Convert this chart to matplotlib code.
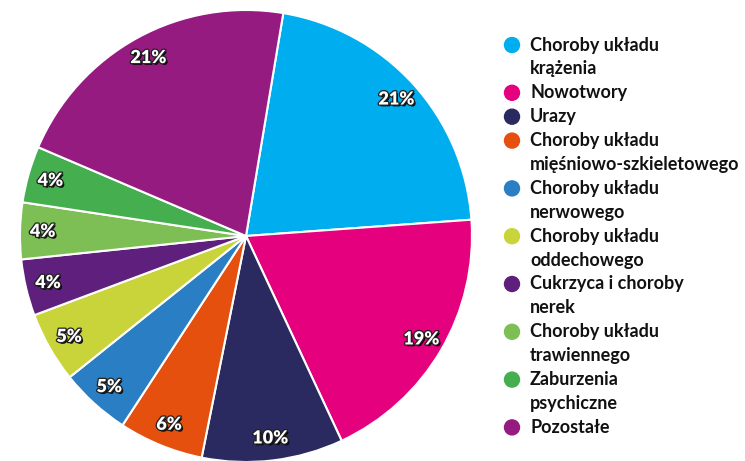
import matplotlib
matplotlib.use("Agg")
import matplotlib.pyplot as plt
import matplotlib.patheffects as pe
from matplotlib.patches import Ellipse

# dane
categories = [
    "Choroby układu\nkrążenia",
    "Nowotwory",
    "Urazy",
    "Choroby układu\nmięśniowo-szkieletowego",
    "Choroby układu\nnerwowego",
    "Choroby układu\noddechowego",
    "Cukrzyca i choroby\nnerek",
    "Choroby układu\ntrawiennego",
    "Zaburzenia\npsychiczne",
    "Pozostałe",
]
shares = [21, 19, 10, 6, 5, 5, 4, 4, 4, 21]
colors = ["#00AEEF", "#E5007D", "#2A2A60", "#E5500F", "#2A7EC3",
          "#C8D43A", "#5F1F7C", "#7DBE55", "#45AE4E", "#951B80"]

plt.rcParams['font.family'] = ['Lato', 'DejaVu Sans']

W, H = 745, 461
fig = plt.figure(figsize=(W / 100, H / 100), dpi=100)

# os kolowa: srodek (246, 236), promien 226 px
cx, cy, r = 246, 236, 226
ax = fig.add_axes([(cx - r) / W, (H - cy - r) / H, 2 * r / W, 2 * r / H])

wedges, _, autotexts = ax.pie(
    shares, colors=colors, startangle=80.5, counterclock=False,
    autopct=lambda p: "", pctdistance=0.9,
    wedgeprops=dict(edgecolor="white", linewidth=1.5))
ax.set_xlim(-1, 1)
ax.set_ylim(-1, 1)
ax.set_aspect("equal")
ax.axis("off")

shadow = [pe.withSimplePatchShadow(offset=(1.3, -1.3), shadow_rgbFace="black", alpha=0.9),
          pe.withStroke(linewidth=1.8, foreground="#202020")]
for t, v in zip(autotexts, shares):
    t.set_text(f"{v}%")
    t.set_color("white")
    t.set_fontsize(13)
    t.set_fontweight("heavy")
    t.set_path_effects(shadow)

# legenda rysowana recznie
y0, step = 45, 23.9
line = 0
for name, col in zip(categories, colors):
    yy = (H - (y0 + line * step)) / H
    fig.patches.append(Ellipse((512 / W, yy), 15 / W, 15 / H,
                               transform=fig.transFigure, color=col))
    for k, part in enumerate(name.split("\n")):
        fig.text(530 / W, (H - (y0 + (line + k) * step)) / H, part,
                 fontsize=13, fontweight="bold", color="#111111",
                 va="center", ha="left")
    line += len(name.split("\n"))

fig.savefig("out.png", dpi=100)
